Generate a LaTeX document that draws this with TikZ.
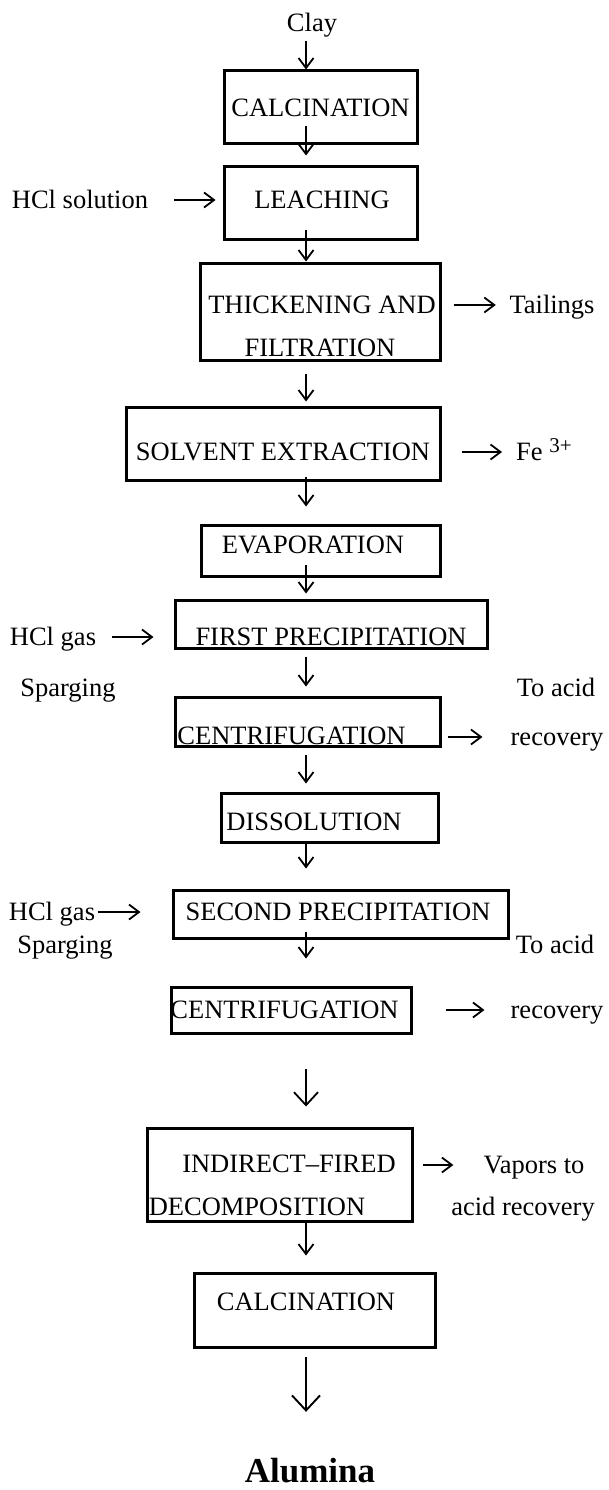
\documentclass[tikz,border=0pt]{standalone}
\usepackage{fontspec}
\setmainfont{Liberation Serif}
\usetikzlibrary{arrows.meta}

\tikzset{
  box/.style={draw, line width=3pt, inner sep=0pt},
  lbl/.style={inner sep=0pt, text height=17.5pt, text depth=0pt,
    font=\fontsize{26.5}{32}\selectfont},
  flow/.style={line width=1.8pt, -{Straight Barb[length=10pt,width=15pt]}},
  bigflow/.style={line width=1.9pt, -{Straight Barb[length=15pt,width=28pt]}},
}

\begin{document}
\begin{tikzpicture}[x=1pt,y=-1pt]
\useasboundingbox (0,0) rectangle (608,1490);
\coordinate (axis) at (306,0);

    % feed
    \node[lbl] (clay) at (312,23) {Clay};

    % calcination and leaching
    \node[box, minimum width=193pt, minimum height=73pt,
      label={[lbl]center:CALCINATION}] (calcA) at (320.5,107.5) {};
    \node[box, minimum width=193pt, minimum height=72pt,
      label={[lbl, shift={(1.5,-3)}]center:LEACHING}] (leach) at (320.5,203) {};
    \node[lbl] (hclsol) at (80,200) {HCl solution};

    % thickening and filtration
    \node[box, minimum width=240pt, minimum height=97pt,
      label={[lbl, shift={(2,-6.5)}]center:THICKENING AND},
      label={[lbl, shift={(0,36.5)}]center:FILTRATION}] (thick) at (320,311.5) {};
    \node[lbl] (tail) at (552,305) {Tailings};

    % solvent extraction
    \node[box, minimum width=314pt, minimum height=73pt,
      label={[lbl, shift={(0,8.5)}]center:SOLVENT EXTRACTION}] (solv) at (283,443.5) {};
    \node[lbl, anchor=west] (fe) at (516,452)
      {Fe \raisebox{8pt}{\fontsize{21}{24}\selectfont 3+}};

    % evaporation
    \node[box, minimum width=239pt, minimum height=51pt,
      label={[lbl, shift={(-7.5,-5.5)}]center:EVAPORATION}] (evap) at (320.5,550.5) {};

    % first precipitation
    \node[box, minimum width=312pt, minimum height=48pt,
      label={[lbl, shift={(0,13)}]center:FIRST PRECIPITATION}] (firstp) at (331,624) {};
    \node[lbl] (hclA) at (53,637) {HCl gas};
    \node[lbl] (spargA) at (68,688) {Sparging};

    % first centrifugation
    \node[box, minimum width=265pt, minimum height=49pt,
      label={[lbl, shift={(-16,14)}]center:CENTRIFUGATION}] (centA) at (307.5,721.5) {};
    \node[lbl] (acidA) at (556,688) {To acid};
    \node[lbl] (recA) at (557,737) {recovery};

    % dissolution
    \node[box, minimum width=217pt, minimum height=49pt,
      label={[lbl, shift={(-15.5,4.5)}]center:DISSOLUTION}] (dissol) at (329.5,817.5) {};

    % second precipitation
    \node[box, minimum width=335pt, minimum height=48pt,
      label={[lbl, shift={(-2.5,-2)}]center:SECOND PRECIPITATION}] (secp) at (340.5,914) {};
    \node[lbl] (hclB) at (52,912) {HCl gas};
    \node[lbl] (spargB) at (65,945) {Sparging};

    % second centrifugation
    \node[box, minimum width=240pt, minimum height=46pt,
      label={[lbl, shift={(-6.5,0)}]center:CENTRIFUGATION}] (centB) at (291,1010) {};
    \node[lbl] (acidB) at (555,945) {To acid};
    \node[lbl] (recB) at (557,1010) {recovery};

    % decomposition
    \node[box, minimum width=265pt, minimum height=93pt,
      label={[lbl, shift={(9.5,-10.5)}]center:INDIRECT--FIRED},
      label={[lbl, shift={(-22.5,32)}]center:DECOMPOSITION}] (indir) at (279.5,1174.5) {};
    \node[lbl] (vap) at (534,1165) {Vapors to};
    \node[lbl] (vapb) at (523,1207) {acid recovery};

    % final calcination
    \node[box, minimum width=241pt, minimum height=74pt,
      label={[lbl, shift={(-8.5,-8)}]center:CALCINATION}] (calcB) at (314.5,1310) {};

    % product
    \node[lbl, text height=23pt, font=\fontsize{35}{40}\selectfont\bfseries]
      (alumina) at (310,1471) {Alumina};

    % main line
    \draw[flow, shorten <=9.5pt] (clay.south -| axis) -- (calcA.north -| axis);
    \draw[flow, shorten <=-19pt, shorten >=10pt] (calcA.south -| axis) -- (leach.north -| axis);
    \draw[flow, shorten <=-11pt] (leach.south -| axis) -- (thick.north -| axis);
    \draw[flow, shorten <=12pt, shorten >=4pt] (thick.south -| axis) -- (solv.north -| axis);
    \draw[flow, shorten <=-5pt, shorten >=17pt] (solv.south -| axis) -- (evap.north -| axis);
    \draw[flow, shorten <=-13pt, shorten >=5pt] (evap.south -| axis) -- (firstp.north -| axis);
    \draw[flow, shorten <=7pt, shorten >=9pt] (firstp.south -| axis) -- (centA.north -| axis);
    \draw[flow, shorten <=7pt, shorten >=8pt] (centA.south -| axis) -- (dissol.north -| axis);
    \draw[flow, shorten >=20pt] (dissol.south -| axis) -- (secp.north -| axis);
    \draw[flow, shorten <=-8pt, shorten >=27pt] (secp.south -| axis) -- (centB.north -| axis);
    \draw[flow, -{Straight Barb[length=13pt,width=24pt]}, shorten <=34pt, shorten >=20pt]
      (centB.south -| axis) -- (indir.north -| axis);
    \draw[flow, shorten >=16pt] (indir.south -| axis) -- (calcB.north -| axis);
    \draw[bigflow, shorten <=8pt, shorten >=47.5pt] (calcB.south -| axis) -- (alumina.north -| axis);

    % side streams in
    \draw[flow, shorten <=26pt, shorten >=7pt] (hclsol.east) -- (leach.west |- hclsol.east);
    \draw[flow, shorten <=16pt, shorten >=20pt] (hclA.east) -- (firstp.west |- hclA.east);
    \draw[flow, shorten <=2.5pt, shorten >=31pt] (hclB.east) -- (secp.west |- hclB.east);

    % side streams out
    \draw[flow, shorten <=12pt, shorten >=13.5pt] (thick.east |- tail.west) -- (tail.west);
    \draw[flow, shorten <=20pt, shorten >=14pt] (solv.east |- fe.west) -- (fe.west);
    \draw[flow, shorten <=6pt, shorten >=28pt] (centA.east |- recA.west) -- (recA.west);
    \draw[flow, shorten <=33pt, shorten >=26pt] (centB.east |- recB.west) -- (recB.west);
    \draw[flow, shorten <=9pt, shorten >=30pt] (indir.east |- vap.west) -- (vap.west);

\end{tikzpicture}
\end{document}
